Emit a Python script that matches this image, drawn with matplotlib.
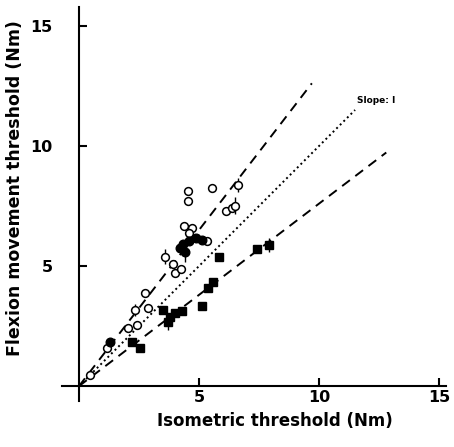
import matplotlib.pyplot as plt
import numpy as np

# open circles
open_x = [4.53, 4.53, 5.53, 6.61, 6.12, 6.36, 6.50, 4.39, 4.72, 4.58, 5.32,
          3.58, 3.93, 4.00, 4.24, 2.75, 2.89, 2.33, 2.03, 2.40, 1.15, 0.46]
open_y = [8.14, 7.72, 8.26, 8.38, 7.29, 7.40, 7.51, 6.67, 6.57, 6.36, 6.04,
          5.39, 5.08, 4.69, 4.88, 3.89, 3.24, 3.17, 2.40, 2.54, 1.57, 0.46]
open_err = [0, 0, 0, 0.3, 0, 0, 0.35, 0, 0, 0, 0,
            0.3, 0, 0, 0, 0, 0, 0.25, 0, 0, 0, 0]

# filled circles
fill_x = [4.21, 4.35, 4.60, 4.88, 5.11, 4.42, 1.29]
fill_y = [5.76, 5.90, 6.04, 6.15, 6.08, 5.60, 1.85]
fill_err = [0, 0, 0, 0, 0, 0.45, 0]

# filled squares
sq_x = [7.40, 7.93, 5.85, 5.60, 5.39, 5.11, 3.51, 3.79, 4.00, 4.28, 3.72, 2.19, 2.54]
sq_y = [5.71, 5.88, 5.36, 4.32, 4.10, 3.33, 3.19, 2.89, 3.03, 3.13, 2.68, 1.85, 1.57]
sq_err = [0, 0.3, 0, 0, 0, 0, 0, 0, 0, 0, 0.35, 0, 0]

# regression lines: slope, end of line on x
slopes = [1.30, 1.00, 0.76]
x_ends = [9.7, 11.5, 12.8]
styles = [(0, (5, 3.5)), (0, (1, 1.6)), (0, (5, 3.5))]

fig = plt.figure(figsize=(4.54, 4.47), dpi=100)
ax = fig.add_axes([0.137, 0.104, 0.846, 0.881])

for s, xe, ls in zip(slopes, x_ends, styles):
    xs = np.array([0, xe])
    ax.plot(xs, s * xs, color='black', lw=1.4, linestyle=ls)

ax.errorbar(open_x, open_y, yerr=open_err, fmt='o', mfc='white', mec='black',
            mew=1.1, ms=5.6, ecolor='black', elinewidth=1, capsize=0, zorder=3)
ax.errorbar(fill_x, fill_y, yerr=fill_err, fmt='o', color='black',
            ms=6.2, elinewidth=1, capsize=0, zorder=4)
ax.errorbar(sq_x, sq_y, yerr=sq_err, fmt='s', color='black',
            ms=5.6, elinewidth=1, capsize=0, zorder=4)

ax.text(11.6, 11.8, 'Slope: I', fontsize=6.5, fontweight='bold')

ax.set_xlim(-0.7, 15.3)
ax.set_ylim(-0.6, 15.8)
ax.spines['left'].set_position(('data', 0))
ax.spines['bottom'].set_position(('data', 0))
ax.spines['right'].set_visible(False)
ax.spines['top'].set_visible(False)
ax.spines['left'].set_linewidth(1.5)
ax.spines['bottom'].set_linewidth(1.5)

ax.set_xticks([5, 10, 15])
ax.set_yticks([5, 10, 15])
ax.tick_params(axis='both', direction='in', length=6, width=1.5,
               labelsize=11.5)
ax.tick_params(axis='y', pad=19)
ax.tick_params(axis='x', pad=3)
for lab in ax.get_xticklabels() + ax.get_yticklabels():
    lab.set_fontweight('bold')

fig.text(0.606, 0.058, 'Isometric threshold (Nm)', ha='center', va='center',
         fontsize=12, fontweight='bold')
fig.text(0.033, 0.58, 'Flexion movement threshold (Nm)', ha='center',
         va='center', rotation=90, fontsize=12.5, fontweight='bold')

fig.savefig('out.png', dpi=100)
